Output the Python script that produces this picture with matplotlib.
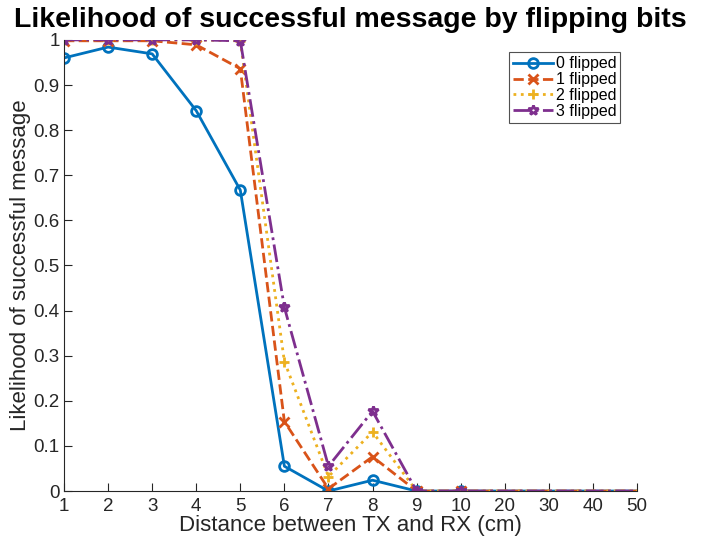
import matplotlib
matplotlib.use("Agg")
from matplotlib import pyplot as plt

plt.rcParams['font.family'] = ['Liberation Sans', 'DejaVu Sans']

DISTANCES = ["1", "2", "3", "4", "5", "6", "7", "8", "9", "10", "20", "30", "40", "50"]
FLIP0 = [0.960, 0.984, 0.969, 0.843, 0.667, 0.055, 0.0, 0.024, 0.0, 0.0, 0.0, 0.0, 0.0, 0.0]
FLIP1 = [0.998, 0.998, 0.998, 0.989, 0.936, 0.154, 0.005, 0.076, 0.0, 0.0, 0.0, 0.0, 0.0, 0.0]
FLIP2 = [1.0, 1.0, 1.0, 1.0, 0.998, 0.287, 0.032, 0.131, 0.0, 0.0, 0.0, 0.0, 0.0, 0.0]
FLIP3 = [1.0, 1.0, 1.0, 1.0, 0.998, 0.407, 0.055, 0.177, 0.0, 0.0, 0.0, 0.0, 0.0, 0.0]
LABELS = ["0 flipped", "1 flipped", "2 flipped", "3 flipped"]

COLORS = ["#0072BD", "#D95319", "#EDB120", "#7E2F8E"]
STYLES = ["-", "--", ":", "-."]
MARKERS = ["o", "x", "+", "*"]


def main():
    fig = plt.figure(figsize=(7.05, 5.39), dpi=100)
    ax = fig.add_axes([0.0908, 0.089, 0.8127, 0.837])
    xs = list(range(len(DISTANCES)))

    for ys, lab, c, ls, m in zip([FLIP0, FLIP1, FLIP2, FLIP3], LABELS, COLORS, STYLES, MARKERS):
        ax.plot(xs, ys, color=c, linestyle=ls, linewidth=2, marker=m,
                markersize=7, markeredgewidth=2, markerfacecolor='none',
                markevery=list(range(10)), label=lab)

    ax.set_xlim(0, len(DISTANCES) - 1)
    ax.set_ylim(0, 1)
    ax.set_xticks(xs)
    ax.set_xticklabels(DISTANCES)
    ax.set_yticks([i / 10 for i in range(11)])
    ax.set_yticklabels(["0"] + ["0.%d" % i for i in range(1, 10)] + ["1"])
    ax.tick_params(direction='in', labelsize=13.5, colors='#262626', length=6)
    ax.tick_params(axis='x', pad=5)
    ax.tick_params(axis='y', pad=3)
    for s in ['top', 'right']:
        ax.spines[s].set_visible(False)
    for s in ['left', 'bottom']:
        ax.spines[s].set_color('#262626')

    ax.set_title("Likelihood of successful message by flipping bits",
                 fontsize=20.5, fontweight='bold', pad=9)
    ax.set_xlabel("Distance between TX and RX (cm)", fontsize=16, color='#262626', labelpad=0)
    ax.set_ylabel("Likelihood of successful message", fontsize=16, color='#262626', labelpad=2)

    leg = ax.legend(loc='upper right', bbox_to_anchor=(0.985, 0.99), fontsize=11.5,
                    handlelength=2.5, fancybox=False, edgecolor='#262626',
                    borderpad=0.25, labelspacing=0.05, handletextpad=0.2)
    leg.get_frame().set_linewidth(0.8)

    fig.savefig("out.png", dpi=100)


if __name__ == '__main__':
    main()
